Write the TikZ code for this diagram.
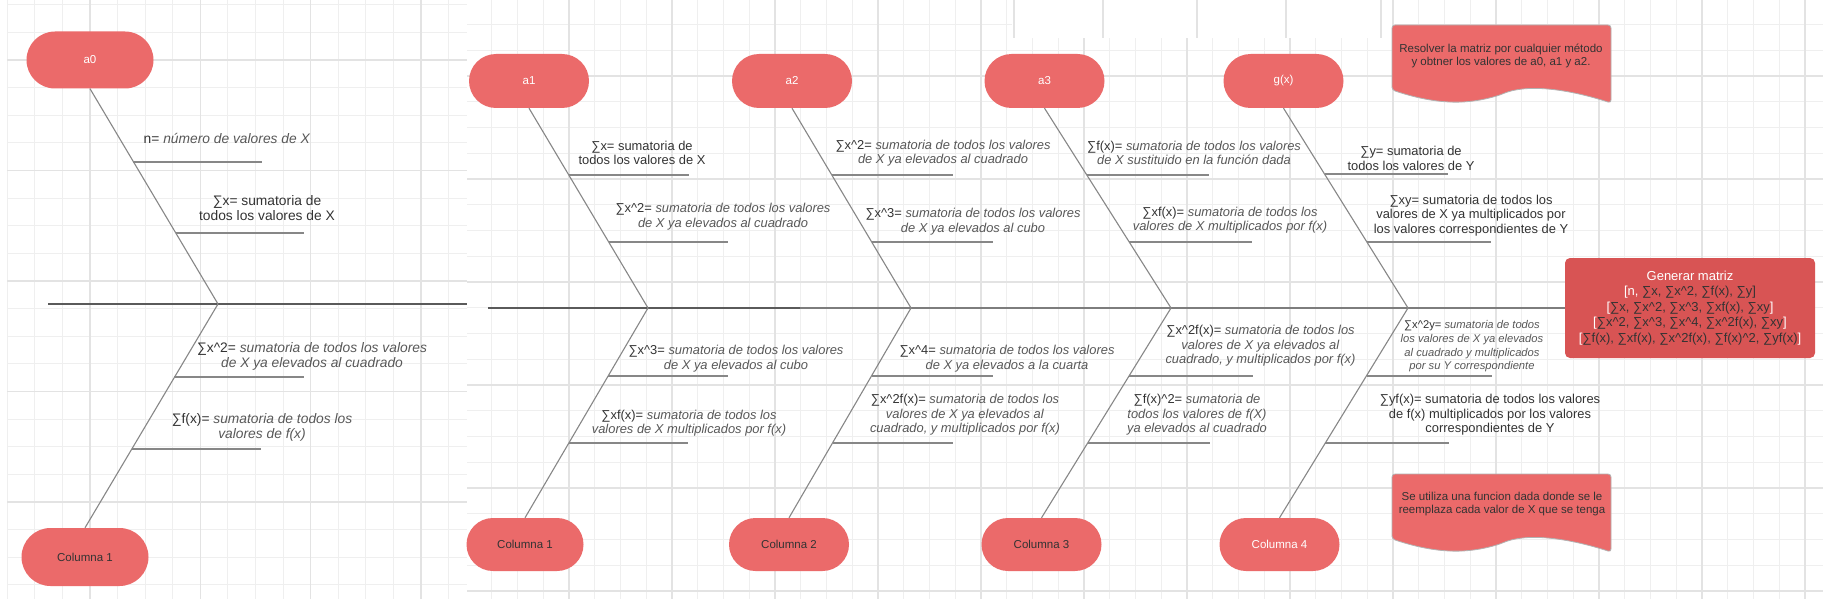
\documentclass[tikz,border=0pt]{standalone}
\usepackage{fontspec}
\setmainfont{Liberation Sans}
\usetikzlibrary{positioning, calc, shapes.misc}

\definecolor{noderose}{RGB}{235, 106, 106}
\definecolor{matrixred}{RGB}{216, 84, 84}
\definecolor{gridminor}{RGB}{239, 239, 239}
\definecolor{gridmajor}{RGB}{227, 227, 227}
\definecolor{inkdark}{RGB}{51, 51, 51}
\definecolor{inkgray}{RGB}{88, 88, 88}
\definecolor{bonegray}{RGB}{135, 135, 135}
\definecolor{spinegray}{RGB}{125, 125, 125}
\definecolor{spinedark}{RGB}{90, 90, 90}

\newcommand{\hatc}{\textasciicircum}
\newcommand{\mopen}{\textcolor{white}{[}}
\newcommand{\mclose}{\textcolor{white}{]}}

\tikzset{
  headbox/.style={rounded rectangle, fill=noderose, text=white, inner sep=0pt,
    minimum width=120, minimum height=54, font=\fontsize{11.5}{13}\selectfont},
  tailbox/.style={headbox, text=inkdark},
  bone/.style={draw=bonegray, line width=1.1pt},
  twig/.style={draw=bonegray, line width=1.3pt},
  spine/.style={draw=spinegray, line width=1.5pt},
  notebig/.style={align=center, inner sep=0pt, text=inkgray, font=\fontsize{13.8}{14.9}\selectfont},
  causenote/.style={align=center, inner sep=0pt, text=inkgray, font=\fontsize{12.9}{14.6}\selectfont},
  notesmall/.style={align=center, inner sep=0pt, text=inkgray, font=\fontsize{11.2}{13.7}\selectfont},
  plainnote/.style={text=inkdark},
  docshape/.style={fill=noderose, draw=gray!60, line width=0.8pt, rounded corners=3},
  doctext/.style={align=center, inner sep=0pt, text=inkdark, font=\fontsize{11.5}{13.8}\selectfont},
  matrixbox/.style={fill=matrixred, rounded corners=5, minimum width=250, minimum height=100,
    align=center, inner sep=0pt, text=inkdark, font=\fontsize{13}{15.5}\selectfont},
}

\begin{document}
\begin{tikzpicture}[x=1pt, y=-1pt]
  \useasboundingbox (0,0) rectangle (1823,599);
  \fill[white] (0,0) rectangle (1823,599);

  % Grid, left screenshot
  \begin{scope}
    \clip (7,0) rectangle (467,599);
    \foreach \i in {0,...,16} \draw[gridminor, line width=1pt] ({7+27.6*\i},0) -- ++(0,599);
    \foreach \j in {0,...,21} \draw[gridminor, line width=1pt] (0,{5+27.6*\j}) -- ++(467,0);
    \foreach \i in {3,7,11,15} \draw[gridmajor, line width=1.4pt] ({7+27.6*\i},0) -- ++(0,599);
    \foreach \j in {2,6,10,14,18} \draw[gridmajor, line width=1.4pt] (0,{5+27.6*\j}) -- ++(467,0);
  \end{scope}

  % Grid, right screenshot
  \begin{scope}
    \clip (467,0) rectangle (1823,599);
    \foreach \i in {0,...,53} \draw[gridminor, line width=1pt] ({466+25.75*\i},0) -- ++(0,599);
    \foreach \j in {1,...,24} \draw[gridminor, line width=1pt] (467,{-1.25+25.75*\j}) -- ++(1356,0);
    \foreach \i in {0,4,...,52} \draw[gridmajor, line width=1.4pt] ({466+25.75*\i},0) -- ++(0,599);
    \foreach \j in {3,7,...,23} \draw[gridmajor, line width=1.4pt] (467,{-1.25+25.75*\j}) -- ++(1356,0);
  \end{scope}

  % Pasted strip at the top
  \fill[white] (1012,0) rectangle (1392,38);
  \foreach \gx in {1014,1103,1197,1286,1381} \draw[gridmajor, line width=2pt] (\gx,0) -- ++(0,38);

  % Left diagram
  \coordinate (spineL0) at (48,304);
  \coordinate (spineL1) at (467,304);
  \coordinate (tipL) at (218,304);
  \draw[spine, draw=spinedark] (spineL0) -- (spineL1);

  \node[headbox, minimum width=127, minimum height=57] (a0) at (90,60) {a0};
  \node[tailbox, minimum width=127, minimum height=58] (col1L) at (85,557) {Columna 1};
  \draw[bone] (a0.south) -- (tipL) -- (col1L.north);

  \draw[twig] (133,162) -- (262,162);
  \draw[twig] (176,233) -- (304,233);
  \draw[twig] (174,377) -- (304,377);
  \draw[twig] (132,449) -- (261,449);

  \node[notebig] (nL) at (227,138) {\textcolor{inkdark}{n=} \textit{número de valores de X}};
  \node[notebig, plainnote] (sxL) at (267,208.5) {∑x= sumatoria de\\todos los valores de X};
  \node[notebig] (sx2L) at (312,356) {\textcolor{inkdark}{∑x\hatc2=} \textit{sumatoria de todos los valores}\\\textit{de X ya elevados al cuadrado}};
  \node[notebig] (sfL) at (262,427.5) {\textcolor{inkdark}{∑f(x)=} \textit{sumatoria de todos los}\\\textit{valores de f(x)}};

  % Right diagram: heads and tails
  \node[headbox] (a1) at (529,81) {a1};
  \node[headbox] (a2) at (792,81) {a2};
  \node[headbox] (a3) at (1044.5,81) {a3};
  \node[headbox] (gx) at (1283.5,81) {g(x)};

  \node[tailbox, minimum width=117, minimum height=53] (col1) at (525,544.5) {Columna 1};
  \node[tailbox, minimum height=53] (col2) at (789,544.5) {Columna 2};
  \node[tailbox, minimum height=53] (col3) at (1041.5,544.5) {Columna 3};
  \node[headbox, minimum height=53] (col4) at (1279.5,544.5) {Columna 4};

  % Matrix box and spine
  \node[matrixbox] (matriz) at (1690,308) {\textcolor{white}{Generar matriz}\\
    \textcolor{white}{[n,} ∑x, ∑x\hatc2, ∑f(x), ∑y]\\
    \mopen∑x, ∑x\hatc2, ∑x\hatc3, ∑xf(x), ∑xy\mclose\\
    \mopen∑x\hatc2, ∑x\hatc3, ∑x\hatc4, ∑x\hatc2f(x), ∑xy\mclose\\
    \mopen∑f(x), ∑xf(x), ∑x\hatc2f(x), ∑f(x)\hatc2, ∑yf(x)\mclose};

  \coordinate (spineR) at (488,308);
  \coordinate (spineMid) at (800,308);
  \coordinate (tip1) at (648,308);
  \coordinate (tip2) at (911,308);
  \coordinate (tip3) at (1171,308);
  \coordinate (tip4) at (1408,308);
  \draw[spine] (spineR) -- (matriz.west);
  \draw[spine, draw=spinedark] (spineR) -- (spineMid);

  \draw[bone] (a1.south) -- (tip1) -- (col1.north);
  \draw[bone] (a2.south) -- (tip2) -- (col2.north);
  \draw[bone] (a3.south) -- (tip3) -- (col3.north);
  \draw[bone] (gx.south) -- (tip4) -- (col4.north);

  % Branches
  \draw[twig] (569,175) -- (689,175);
  \draw[twig] (609,242) -- (728,242);
  \draw[twig] (608,376) -- (728,376);
  \draw[twig] (569,443) -- (688,443);

  \draw[twig] (832,175) -- (953,175);
  \draw[twig] (872,242) -- (993,242);
  \draw[twig] (872,376) -- (993,376);
  \draw[twig] (833,443) -- (953,443);

  \draw[twig] (1087,175) -- (1209,175);
  \draw[twig] (1129,242) -- (1252,242);
  \draw[twig] (1129,376) -- (1253,376);
  \draw[twig] (1088,443) -- (1210,443);

  \draw[twig] (1325,174) -- (1448,174);
  \draw[twig] (1367,242) -- (1491,242);
  \draw[twig] (1367,376) -- (1492,376);
  \draw[twig] (1325,443) -- (1449,443);

  % Labels, a1
  \node[causenote, plainnote] (sx1) at (642,153) {∑x= sumatoria de\\todos los valores de X};
  \node[causenote] (sx21) at (723,216.5) {\textcolor{inkdark}{∑x\hatc2=} \textit{sumatoria de todos los valores}\\\textit{de X ya elevados al cuadrado}};
  \node[causenote] (sx31) at (736,358.5) {\textcolor{inkdark}{∑x\hatc3=} \textit{sumatoria de todos los valores}\\\textit{de X ya elevados al cubo}};
  \node[causenote] (sxf1) at (689,423) {\textcolor{inkdark}{∑xf(x)=} \textit{sumatoria de todos los}\\\textit{valores de X multiplicados por f(x)}};

  % Labels, a2
  \node[causenote] (sx22) at (943,153) {\textcolor{inkdark}{∑x\hatc2=} \textit{sumatoria de todos los valores}\\\textit{de X ya elevados al cuadrado}};
  \node[causenote] (sx32) at (973,221.5) {\textcolor{inkdark}{∑x\hatc3=} \textit{sumatoria de todos los valores}\\\textit{de X ya elevados al cubo}};
  \node[causenote] (sx42) at (1007,358.5) {\textcolor{inkdark}{∑x\hatc4=} \textit{sumatoria de todos los valores}\\\textit{de X ya elevados a la cuarta}};
  \node[causenote] (sx2f2) at (965,415) {\textcolor{inkdark}{∑x\hatc2f(x)=} \textit{sumatoria de todos los}\\\textit{valores de X ya elevados al}\\\textit{cuadrado, y multiplicados por f(x)}};

  % Labels, a3
  \node[causenote] (sf3) at (1194,153) {\textcolor{inkdark}{∑f(x)=} \textit{sumatoria de todos los valores}\\\textit{de X sustituido en la función dada}};
  \node[causenote] (sxf3) at (1230,220) {\textcolor{inkdark}{∑xf(x)=} \textit{sumatoria de todos los}\\\textit{valores de X multiplicados por f(x)}};
  \node[causenote] (sx2f3) at (1260.5,346) {\textcolor{inkdark}{∑x\hatc2f(x)=} \textit{sumatoria de todos los}\\\textit{valores de X ya elevados al}\\\textit{cuadrado, y multiplicados por f(x)}};
  \node[causenote] (sf23) at (1197,415) {\textcolor{inkdark}{∑f(x)\hatc2=} \textit{sumatoria de}\\\textit{todos los valores de f(X)}\\\textit{ya elevados al cuadrado}};

  % Labels, g(x)
  \node[causenote, plainnote] (sy4) at (1411,158.5) {∑y= sumatoria de\\todos los valores de Y};
  \node[causenote, plainnote] (sxy4) at (1471,215.5) {∑xy= sumatoria de todos los\\valores de X ya multiplicados por\\los valores correspondientes de Y};
  \node[notesmall] (sx2y4) at (1472,346.5) {\textcolor{inkdark}{∑x\hatc2y=} \textit{sumatoria de todos}\\\textit{los valores de X ya elevados}\\\textit{al cuadrado y multiplicados}\\\textit{por su Y correspondiente}};
  \node[causenote, plainnote] (syf4) at (1490,415) {∑yf(x)= sumatoria de todos los valores\\de f(x) multiplicados por los valores\\correspondientes de Y};

  % Notes
  \draw[docshape] (1392,90) -- (1392,25) -- (1611,25) -- (1611,103)
    .. controls (1565,88) and (1525,84) .. (1500,95)
    .. controls (1470,104) and (1440,106) .. (1392,90) -- cycle;
  \node[doctext] (docsolve) at (1501,56) {Resolver la matriz por cualquier método\\y obtner los valores de a0, a1 y a2.};

  \draw[docshape] (1392,539) -- (1392,474) -- (1611,474) -- (1611,552)
    .. controls (1565,537) and (1525,533) .. (1500,544)
    .. controls (1470,553) and (1440,555) .. (1392,539) -- cycle;
  \node[doctext] (docfunc) at (1502,504) {Se utiliza una funcion dada donde se le\\reemplaza cada valor de X que se tenga};
\end{tikzpicture}
\end{document}
